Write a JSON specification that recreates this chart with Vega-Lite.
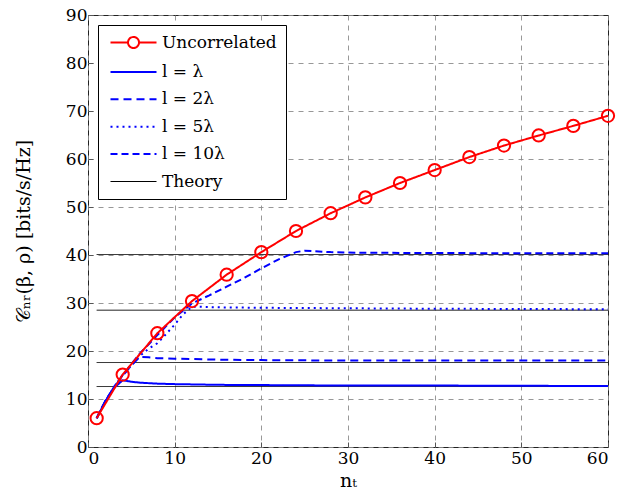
{
  "$schema": "https://vega.github.io/schema/vega-lite/v6.json",
  "width": 520,
  "height": 432,
  "autosize": {"type": "none"},
  "padding": {"left": 88, "top": 15, "right": 12, "bottom": 48},
  "background": "white",
  "config": {
    "view": {"stroke": "#222", "strokeWidth": 1},
    "font": "DejaVu Serif",
    "axis": {
      "labelFont": "DejaVu Serif",
      "labelFontSize": 17,
      "labelColor": "black",
      "titleFont": "DejaVu Serif",
      "titleFontSize": 19,
      "titleFontWeight": "normal",
      "titleColor": "black",
      "domain": false,
      "tickColor": "#555",
      "tickSize": -5,
      "grid": true,
      "gridDash": [5, 5],
      "gridColor": "#8c8c8c",
      "gridWidth": 0.9
    },
    "legend": {
      "orient": "none",
      "legendX": 10,
      "legendY": 10,
      "strokeColor": "black",
      "fillColor": "white",
      "padding": 9,
      "labelFont": "DejaVu Serif",
      "labelFontSize": 17,
      "labelColor": "black",
      "symbolSize": 100,
      "labelOffset": 38,
      "rowPadding": 9.4,
      "symbolStrokeWidth": 2,
      "symbolType": "stroke"
    }
  },
  "datasets": {
    "theory": [
      {"series": "Theory", "grp": "t1", "x": 1, "y": 12.6},
      {"series": "Theory", "grp": "t1", "x": 60, "y": 12.6},
      {"series": "Theory", "grp": "t2", "x": 1, "y": 17.6},
      {"series": "Theory", "grp": "t2", "x": 60, "y": 17.6},
      {"series": "Theory", "grp": "t3", "x": 1, "y": 28.5},
      {"series": "Theory", "grp": "t3", "x": 60, "y": 28.5},
      {"series": "Theory", "grp": "t4", "x": 1, "y": 40.1},
      {"series": "Theory", "grp": "t4", "x": 60, "y": 40.1}
    ],
    "corr": [
      {"series": "l = λ", "x": 1, "y": 6},
      {"series": "l = λ", "x": 2, "y": 9.5},
      {"series": "l = λ", "x": 3, "y": 12.3},
      {"series": "l = λ", "x": 4, "y": 13.9},
      {"series": "l = λ", "x": 5, "y": 13.6},
      {"series": "l = λ", "x": 6, "y": 13.4},
      {"series": "l = λ", "x": 8, "y": 13.2},
      {"series": "l = λ", "x": 10, "y": 13.1},
      {"series": "l = λ", "x": 15, "y": 12.95},
      {"series": "l = λ", "x": 20, "y": 12.9},
      {"series": "l = λ", "x": 30, "y": 12.8},
      {"series": "l = λ", "x": 40, "y": 12.8},
      {"series": "l = λ", "x": 50, "y": 12.75},
      {"series": "l = λ", "x": 60, "y": 12.7},
      {"series": "l = 2λ", "x": 1, "y": 6},
      {"series": "l = 2λ", "x": 2, "y": 9.6},
      {"series": "l = 2λ", "x": 3, "y": 12.4},
      {"series": "l = 2λ", "x": 4, "y": 14.8},
      {"series": "l = 2λ", "x": 5, "y": 17},
      {"series": "l = 2λ", "x": 6, "y": 18.8},
      {"series": "l = 2λ", "x": 7, "y": 18.7},
      {"series": "l = 2λ", "x": 8, "y": 18.5},
      {"series": "l = 2λ", "x": 10, "y": 18.4},
      {"series": "l = 2λ", "x": 15, "y": 18.2},
      {"series": "l = 2λ", "x": 20, "y": 18.1},
      {"series": "l = 2λ", "x": 30, "y": 18.0},
      {"series": "l = 2λ", "x": 60, "y": 18.0},
      {"series": "l = 5λ", "x": 1, "y": 6},
      {"series": "l = 5λ", "x": 2, "y": 9.6},
      {"series": "l = 5λ", "x": 3, "y": 12.5},
      {"series": "l = 5λ", "x": 4, "y": 15},
      {"series": "l = 5λ", "x": 5, "y": 17},
      {"series": "l = 5λ", "x": 6, "y": 19},
      {"series": "l = 5λ", "x": 7, "y": 20.5},
      {"series": "l = 5λ", "x": 8, "y": 21.6},
      {"series": "l = 5λ", "x": 9, "y": 23.5},
      {"series": "l = 5λ", "x": 10, "y": 25.5},
      {"series": "l = 5λ", "x": 11, "y": 27.7},
      {"series": "l = 5λ", "x": 12, "y": 29.2},
      {"series": "l = 5λ", "x": 13, "y": 29.2},
      {"series": "l = 5λ", "x": 15, "y": 29.1},
      {"series": "l = 5λ", "x": 20, "y": 29.0},
      {"series": "l = 5λ", "x": 30, "y": 28.9},
      {"series": "l = 5λ", "x": 40, "y": 28.8},
      {"series": "l = 5λ", "x": 60, "y": 28.7},
      {"series": "l = 10λ", "x": 1, "y": 6},
      {"series": "l = 10λ", "x": 2, "y": 9.6},
      {"series": "l = 10λ", "x": 3, "y": 12.5},
      {"series": "l = 10λ", "x": 4, "y": 15},
      {"series": "l = 10λ", "x": 6, "y": 19.5},
      {"series": "l = 10λ", "x": 8, "y": 23.3},
      {"series": "l = 10λ", "x": 10, "y": 27},
      {"series": "l = 10λ", "x": 12, "y": 29.9},
      {"series": "l = 10λ", "x": 14, "y": 31.6},
      {"series": "l = 10λ", "x": 16, "y": 33.4},
      {"series": "l = 10λ", "x": 18, "y": 35.2},
      {"series": "l = 10λ", "x": 20, "y": 37.2},
      {"series": "l = 10λ", "x": 22, "y": 39.1},
      {"series": "l = 10λ", "x": 24, "y": 40.6},
      {"series": "l = 10λ", "x": 25, "y": 40.9},
      {"series": "l = 10λ", "x": 26, "y": 40.8},
      {"series": "l = 10λ", "x": 28, "y": 40.6},
      {"series": "l = 10λ", "x": 30, "y": 40.5},
      {"series": "l = 10λ", "x": 40, "y": 40.4},
      {"series": "l = 10λ", "x": 60, "y": 40.35}
    ],
    "unc": [
      {"series": "Uncorrelated", "x": 1, "y": 6.0},
      {"series": "Uncorrelated", "x": 4, "y": 15.1},
      {"series": "Uncorrelated", "x": 8, "y": 23.7},
      {"series": "Uncorrelated", "x": 12, "y": 30.4},
      {"series": "Uncorrelated", "x": 16, "y": 35.9},
      {"series": "Uncorrelated", "x": 20, "y": 40.6},
      {"series": "Uncorrelated", "x": 24, "y": 45.0},
      {"series": "Uncorrelated", "x": 28, "y": 48.7},
      {"series": "Uncorrelated", "x": 32, "y": 52.0},
      {"series": "Uncorrelated", "x": 36, "y": 55.0},
      {"series": "Uncorrelated", "x": 40, "y": 57.7},
      {"series": "Uncorrelated", "x": 44, "y": 60.4},
      {"series": "Uncorrelated", "x": 48, "y": 62.8},
      {"series": "Uncorrelated", "x": 52, "y": 64.9},
      {"series": "Uncorrelated", "x": 56, "y": 66.9},
      {"series": "Uncorrelated", "x": 60, "y": 69.0}
    ]
  },
  "encoding": {
    "x": {
      "field": "x",
      "type": "quantitative",
      "scale": {"domain": [0, 60], "nice": false},
      "axis": {"values": [0, 10, 20, 30, 40, 50, 60], "title": "nₜ", "labelPadding": 8, "titlePadding": 5}
    },
    "y": {
      "field": "y",
      "type": "quantitative",
      "scale": {"domain": [0, 90], "nice": false},
      "axis": {"values": [0, 10, 20, 30, 40, 50, 60, 70, 80, 90], "title": "𝒞ₙᵣ(β, ρ) [bits/s/Hz]", "labelPadding": 6, "titlePadding": 32}
    }
  },
  "layer": [
    {
      "data": {"name": "theory"},
      "mark": {"type": "line", "strokeWidth": 1},
      "encoding": {
        "color": {"field": "series", "type": "nominal", "scale": {"domain": ["Uncorrelated", "l = λ", "l = 2λ", "l = 5λ", "l = 10λ", "Theory"], "range": ["#ff0000", "#0000ff", "#0000ff", "#0000ff", "#0000ff", "#000000"]},
          "legend": {"title": null, "encode": {"symbols": {"update": {
            "shape": {"signal": "datum.value === 'Uncorrelated' ? 'M-1,0L2.5,0M4.7,0L8.2,0M2.5,0A1.1,1.1 0 1,0 4.7,0A1.1,1.1 0 1,0 2.5,0' : 'M-1,0L8.2,0'"},
            "strokeWidth": {"signal": "datum.value === 'Theory' ? 1.2 : 2"},
            "fill": {"value": "transparent"}
          }}}}},
        "strokeDash": {"field": "series", "type": "nominal", "scale": {"domain": ["Uncorrelated", "l = λ", "l = 2λ", "l = 5λ", "l = 10λ", "Theory"], "range": [[1, 0], [1, 0], [8, 5], [2, 4], [7, 4], [1, 0]]}, "legend": {"title": null}},
        "detail": {"field": "grp"}
      }
    },
    {
      "data": {"name": "corr"},
      "mark": {"type": "line", "strokeWidth": 2},
      "encoding": {
        "color": {"field": "series", "type": "nominal"},
        "strokeDash": {"field": "series", "type": "nominal"}
      }
    },
    {
      "data": {"name": "unc"},
      "mark": {"type": "line", "strokeWidth": 2},
      "encoding": {
        "color": {"field": "series", "type": "nominal"},
        "strokeDash": {"field": "series", "type": "nominal"}
      }
    },
    {
      "data": {"name": "unc"},
      "mark": {"type": "point", "filled": false, "stroke": "#ff0000", "strokeWidth": 2, "size": 150, "opacity": 1}
    }
  ]
}
